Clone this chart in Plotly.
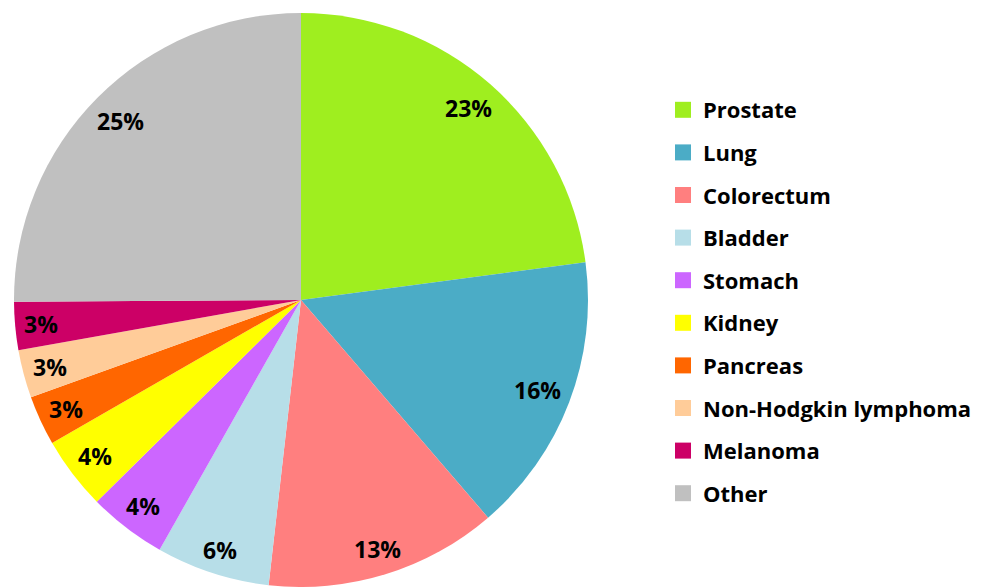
import math
import plotly.graph_objects as go

# ---- data (shares in %; labels show rounded values) ----
sites = ["Prostate", "Lung", "Colorectum", "Bladder", "Stomach", "Kidney",
         "Pancreas", "Non-Hodgkin lymphoma", "Melanoma", "Other"]
shares = [22.9, 15.8, 13.1, 6.4, 4.4, 4.1, 2.8, 2.7, 2.7, 25.1]
colors = ["#9FEE1F", "#4BACC6", "#FF7F7F", "#B7DEE8", "#CC66FF", "#FFFF00",
          "#FF6600", "#FFCC99", "#CC0066", "#C0C0C0"]

# page body has an 8px margin, so the figure is 8px smaller each way
W, H = 976, 579
ML, MR, MT, MB = 0, 0, 5, 0
PW, PH = W - ML - MR, H - MT - MB
R = 287
CX = 293
CY = MT + R  # pixel from top of figure

FONT = "Open Sans"
LABEL_SIZE = 23

fig = go.Figure()
fig.add_trace(go.Pie(
    labels=sites, values=shares, sort=False, direction="clockwise",
    rotation=0, marker=dict(colors=colors, line=dict(width=0)),
    textinfo="none", hoverinfo="label+percent", showlegend=False,
    domain=dict(x=[(CX - R) / PW, (CX + R) / PW], y=[0, 1]),
))

# percentage labels placed "inside end" of each slice
total = sum(shares)
cum = 0
annotations = []
for s, v in zip(sites, shares):
    mid = (cum + v / 2) / total * 2 * math.pi
    cum += v
    txt = f"{round(v / total * 100)}%"
    ndig = len(txt) - 1
    hw = 0.5 * (ndig * 0.572 + 0.846) * LABEL_SIZE
    hh = 11
    dx, dy = math.sin(mid), -math.cos(mid)
    rr = R - 9 - (hw * abs(dx) + hh * abs(dy))
    px = CX + rr * dx
    py = CY + rr * dy
    annotations.append(dict(
        x=(px - ML) / PW, y=(H - MB - py) / PH, xref="paper", yref="paper",
        text=f"<b>{txt}</b>", showarrow=False,
        font=dict(family=FONT, size=LABEL_SIZE, color="black"),
        xanchor="center", yanchor="middle"))

# legend entries
for i, (s, c) in enumerate(zip(sites, colors)):
    fig.add_trace(go.Scatter(
        x=[None], y=[None], mode="markers", name=f"<b>{s}</b>",
        legendgroup=f"g{i}",
        marker=dict(symbol="square", size=16, color=c, line=dict(width=0)),
    ))

fig.update_layout(
    width=W, height=H,
    margin=dict(l=ML, r=MR, t=MT, b=MB),
    paper_bgcolor="white", plot_bgcolor="white",
    xaxis=dict(visible=False), yaxis=dict(visible=False),
    annotations=annotations,
    legend=dict(
        x=655 / PW, y=(H - MB - 81) / PH, xanchor="left", yanchor="top",
        traceorder="grouped", tracegroupgap=11, itemsizing="trace",
        font=dict(family=FONT, size=22, color="black"),
        bgcolor="rgba(0,0,0,0)", borderwidth=0,
    ),
)

fig.write_html("out.html")
